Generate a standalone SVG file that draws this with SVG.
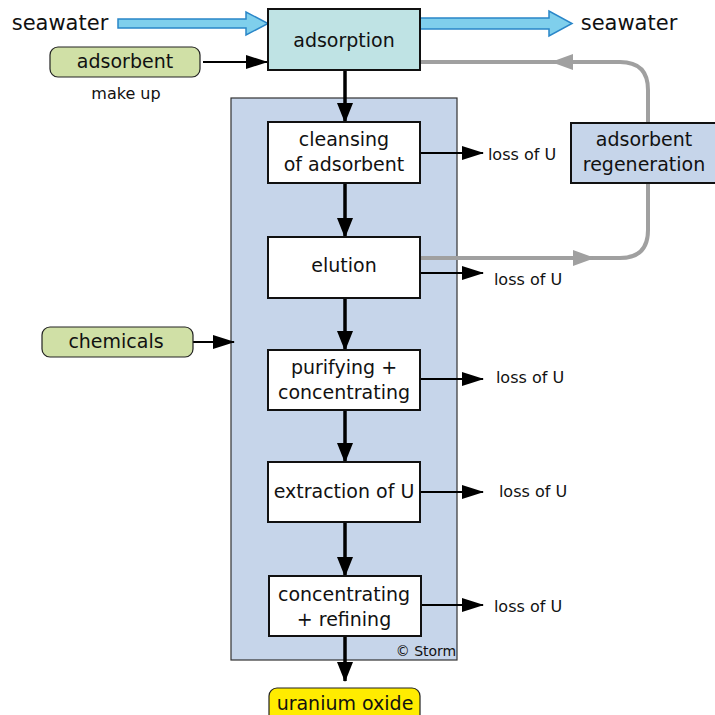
<svg xmlns="http://www.w3.org/2000/svg" width="715" height="715" viewBox="0 0 715 715">
<style>
text{font-family:"DejaVu Sans","Liberation Sans",sans-serif;fill:#111;text-anchor:middle}
.box{fill:#fff;stroke:#111;stroke-width:2}
.t{font-size:19px}
.s{font-size:16px}
.blk{stroke:#000;stroke-width:2;fill:none}
.vert{stroke:#000;stroke-width:3.5;fill:none}
.gray{stroke:#a0a0a0;stroke-width:4;fill:none}
</style>
<defs>
<marker id="ah" markerUnits="userSpaceOnUse" markerWidth="22" markerHeight="14" refX="21" refY="7" orient="auto"><path d="M0,0 L22,7 L0,14 Z" fill="#000"/></marker>
<marker id="av" markerUnits="userSpaceOnUse" markerWidth="20" markerHeight="16" refX="19" refY="8" orient="auto"><path d="M0,0 L20,8 L0,16 Z" fill="#000"/></marker>
<marker id="ag" markerUnits="userSpaceOnUse" markerWidth="22" markerHeight="16" refX="21" refY="8" orient="auto"><path d="M0,0 L22,8 L0,16 Z" fill="#a0a0a0"/></marker>
</defs>
<rect id="process" x="231" y="98" width="226" height="562" fill="#c6d5ea" stroke="#333" stroke-width="1.2"/>
<g id="connectors">
<path d="M118,19 H246 V12 L268,23.5 L246,35 V28 H118 Z" fill="#7fcfec" stroke="#2a86c8" stroke-width="1.5"/>
<path d="M420,18 H549 V11 L572,23.5 L549,36 V29 H420 Z" fill="#7fcfec" stroke="#2a86c8" stroke-width="1.5"/>
<line class="blk" x1="203" y1="62" x2="267" y2="62" marker-end="url(#ah)"/>
<line class="blk" x1="193" y1="342" x2="234" y2="342" marker-end="url(#ah)"/>
<line class="vert" x1="345" y1="70" x2="345" y2="122" marker-end="url(#av)"/>
<line class="vert" x1="345" y1="183" x2="345" y2="237" marker-end="url(#av)"/>
<line class="vert" x1="345" y1="298" x2="345" y2="350" marker-end="url(#av)"/>
<line class="vert" x1="345" y1="410" x2="345" y2="462" marker-end="url(#av)"/>
<line class="vert" x1="345" y1="522" x2="345" y2="576" marker-end="url(#av)"/>
<line class="vert" x1="345" y1="636" x2="345" y2="681" marker-end="url(#av)"/>
<line class="blk" x1="420" y1="153" x2="483" y2="153" marker-end="url(#ah)"/>
<line class="blk" x1="420" y1="273" x2="483" y2="273" marker-end="url(#ah)"/>
<line class="blk" x1="420" y1="379" x2="483" y2="379" marker-end="url(#ah)"/>
<line class="blk" x1="420" y1="492" x2="483" y2="492" marker-end="url(#ah)"/>
<line class="blk" x1="420" y1="605" x2="483" y2="605" marker-end="url(#ah)"/>
<path class="gray" d="M420,258 H620 Q648,258 648,230 V90 Q648,62 620,62 H420"/>
<line class="gray" x1="540" y1="258" x2="594" y2="258" marker-end="url(#ag)"/>
<line class="gray" x1="600" y1="62" x2="552" y2="62" marker-end="url(#ag)"/>
</g>
<g id="seawater-in"><text x="60" y="30" style="font-size:21px">seawater</text></g>
<g id="seawater-out"><text x="629" y="30" style="font-size:21px">seawater</text></g>
<g id="adsorption"><rect x="268" y="9" width="152" height="61" fill="#bfe3e4" stroke="#111" stroke-width="2"/><text class="t" x="344" y="47">adsorption</text></g>
<g id="adsorbent"><rect x="50" y="47" width="150" height="30" rx="8" fill="#d0e0a6" stroke="#222" stroke-width="1.2"/><text class="t" x="125" y="68">adsorbent</text><text class="s" x="126" y="99">make up</text></g>
<g id="chemicals"><rect x="42" y="327" width="151" height="30" rx="8" fill="#d0e0a6" stroke="#222" stroke-width="1.2"/><text class="t" x="116" y="348">chemicals</text></g>
<g id="regeneration"><rect x="571" y="123" width="146" height="60" fill="#c6d5ea" stroke="#111" stroke-width="2"/><text class="t" x="644" y="146">adsorbent</text><text class="t" x="644" y="171">regeneration</text></g>
<g id="cleansing"><rect class="box" x="268" y="122" width="152" height="61"/><text class="t" x="344" y="146">cleansing</text><text class="t" x="344" y="171">of adsorbent</text></g>
<g id="elution"><rect class="box" x="268" y="237" width="152" height="61"/><text class="t" x="344" y="272">elution</text></g>
<g id="purifying"><rect class="box" x="268" y="350" width="152" height="60"/><text class="t" x="344" y="374">purifying +</text><text class="t" x="344" y="399">concentrating</text></g>
<g id="extraction"><rect class="box" x="268" y="462" width="152" height="60"/><text class="t" x="344" y="498">extraction of U</text></g>
<g id="refining"><rect class="box" x="269" y="576" width="152" height="60"/><text class="t" x="344" y="601">concentrating</text><text class="t" x="344" y="626">+ refining</text></g>
<g id="losses">
<text class="s" x="522" y="160">loss of U</text>
<text class="s" x="528" y="285">loss of U</text>
<text class="s" x="530" y="383">loss of U</text>
<text class="s" x="533" y="497">loss of U</text>
<text class="s" x="528" y="612">loss of U</text>
</g>
<g id="uranium"><rect x="269" y="688" width="151" height="36" rx="8" fill="#ffec00" stroke="#222" stroke-width="1.2"/><text class="t" x="345" y="710">uranium oxide</text></g>
<text x="426" y="656" style="font-size:14px">© Storm</text>
</svg>
